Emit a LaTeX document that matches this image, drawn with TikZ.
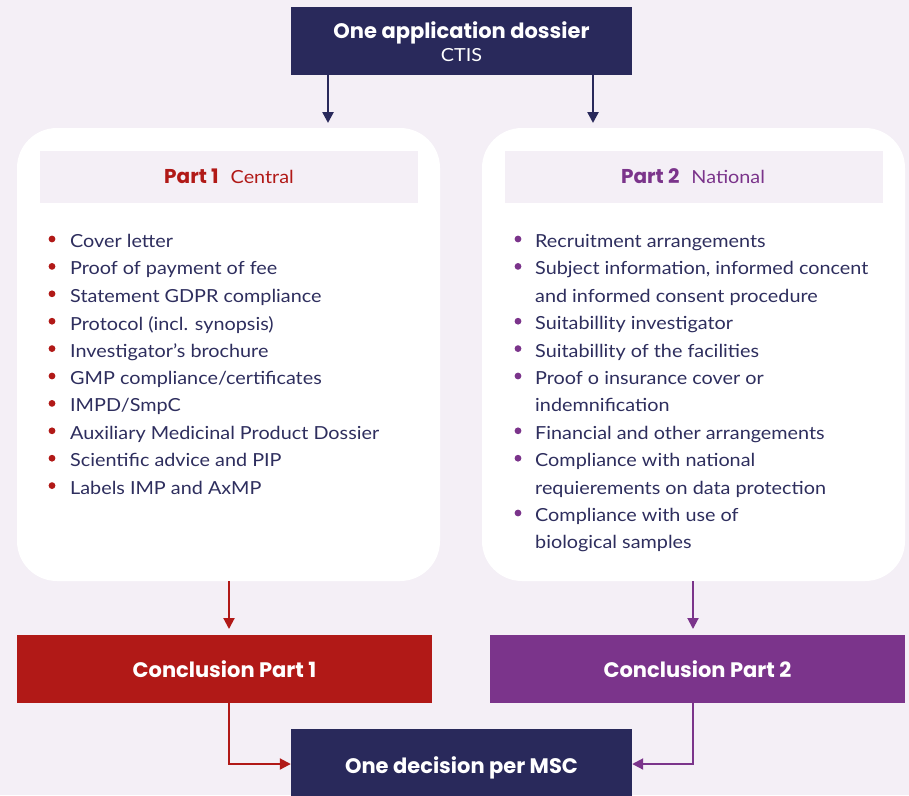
\documentclass[tikz,border=0pt]{standalone}
\usepackage{fontspec}
\setmainfont{Lato}[FakeStretch=1.1]
\newfontfamily\headfont{Poppins}
\usetikzlibrary{arrows.meta}

\definecolor{bgpale}{HTML}{F4EFF6}
\definecolor{navy}{HTML}{29295B}
\definecolor{deepred}{HTML}{B11917}
\definecolor{plum}{HTML}{7B348B}
\definecolor{inktext}{HTML}{2E2E5E}

\tikzset{
  x=1pt, y=-1pt,
  panel/.style={draw=none, fill=white, rounded corners=40pt, inner sep=0pt},
  itemtext/.style={anchor=north west, inner sep=0pt, align=left, text=inktext,
    font=\fontsize{18}{27.4}\selectfont},
  heading/.style={inner sep=0pt, font=\fontsize{18}{22}\selectfont},
  conc/.style={draw=none, text=white, inner sep=0pt,
    font=\headfont\bfseries\fontsize{21}{24}\selectfont},
  flow/.style={line width=2pt, -{Triangle[length=11pt,width=11pt]}},
}
% first line of a list entry gets a fixed ascent so its baseline sits 13pt below the top
\newcommand\firstline{\rule{0pt}{13pt}}

\begin{document}
\begin{tikzpicture}
  \useasboundingbox (0,0) rectangle (909,795);
  \fill[bgpale] (0,0) rectangle (909,795);

  % top box
  \node[fill=navy, inner sep=0pt, minimum width=341pt, minimum height=68pt] (dossier) at (461.5,41) {};
  \node[anchor=base, text=white, inner sep=0pt, font=\headfont\bfseries\fontsize{21}{24}\selectfont] (dtitle) at (461.5,38) {One application dossier};
  \node[anchor=base, text=white, inner sep=0pt, font=\fontsize{18}{20}\selectfont] (dsub) at (461.5,61) {CTIS};

  % panels
  \node[panel, minimum width=423pt, minimum height=453pt] (p1) at (228.5,354.5) {};
  \node[panel, minimum width=423pt, minimum height=453pt] (p2) at (693.5,354.5) {};
  \fill[bgpale] (40,151) rectangle (418,203);
  \fill[bgpale] (505,151) rectangle (883,203);
  \node[anchor=base, heading, text=deepred] (h1) at (229,183)
    {{\headfont\bfseries\fontsize{20}{22}\selectfont Part 1}\hspace{12pt}Central};
  \node[anchor=base, heading, text=plum] (h2) at (693,183)
    {{\headfont\bfseries\fontsize{20}{22}\selectfont Part 2}\hspace{12pt}National};

  % arrows from the dossier into the panels
  \draw[flow, navy, line width=2.5pt] (dossier.south -| 328,0) -- (328,123);
  \draw[flow, navy, line width=2.5pt] (dossier.south -| 593,0) -- (593,123);

  % Part 1 list
  \foreach \t [count=\i from 0] in {Cover letter, Proof of payment of fee,
      Statement GDPR compliance, Protocol (incl. synopsis),
      Investigator’s brochure, GMP compliance/certificates, IMPD/SmpC,
      Auxiliary Medicinal Product Dossier, Scientific advice and PIP,
      Labels IMP and AxMP} {
    \fill[deepred] (52,239+27.4*\i) circle (3.4pt);
    \node[itemtext] (l\i) at (70,234+27.4*\i) {\firstline\t};
  }

  % Part 2 list
  \newcommand\plumitem[3]{%
    \fill[plum] (518,239+27.4*#1) circle (3.4pt);
    \node[itemtext] (#2) at (535,234+27.4*#1) {\firstline #3};}
  \plumitem{0}{r0}{Recruitment arrangements}
  \plumitem{1}{r1}{Subject information, informed concent\\and informed consent procedure}
  \plumitem{3}{r2}{Suitabillity investigator}
  \plumitem{4}{r3}{Suitabillity of the facilities}
  \plumitem{5}{r4}{Proof o insurance cover or\\indemnification}
  \plumitem{7}{r5}{Financial and other arrangements}
  \plumitem{8}{r6}{Compliance with national\\requierements on data protection}
  \plumitem{10}{r7}{Compliance with use of\\biological samples}

  % conclusions
  \node[conc, fill=deepred, minimum width=415pt, minimum height=68pt] (c1) at (224.5,669) {Conclusion Part 1};
  \node[conc, fill=plum, minimum width=415pt, minimum height=68pt] (c2) at (697.5,669) {Conclusion Part 2};
  \node[fill=navy, inner sep=0pt, minimum width=341pt, minimum height=70pt] (dec) at (461.5,764) {};
  \node[conc, anchor=base] (dectext) at (461.5,773) {One decision per MSC};

  \draw[flow, deepred] (p1.south -| 229,0) -- (229,629);
  \draw[flow, plum] (p2.south -| 693,0) -- (693,629);
  \draw[flow, deepred] (c1.south -| 229,0) |- (dec.west);
  \draw[flow, plum] (c2.south -| 693,0) |- (dec.east);
\end{tikzpicture}
\end{document}
